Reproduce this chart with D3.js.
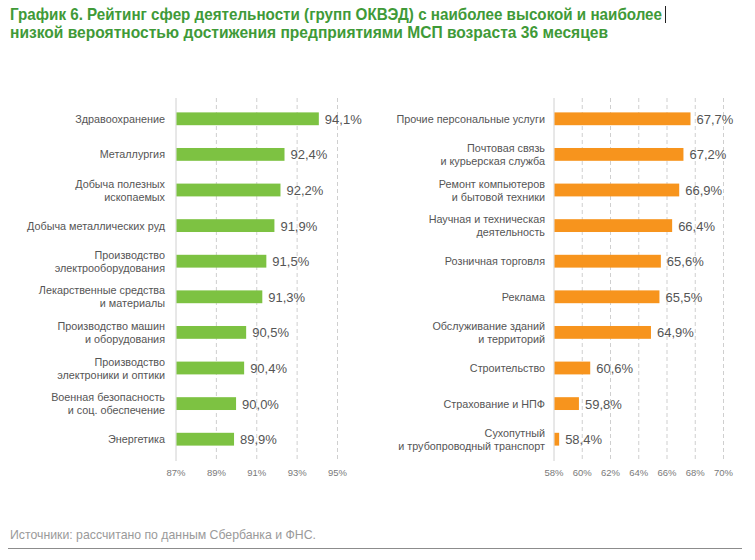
<!DOCTYPE html>
<html><head><meta charset="utf-8">
<script src="https://cdn.jsdelivr.net/npm/d3@7"></script>
<style>
html,body{margin:0;padding:0;background:#fff;}
</style></head>
<body>
<svg id="chart" width="755" height="560"></svg>
<script>
const leftCategories = [
  ["Здравоохранение"],
  ["Металлургия"],
  ["Добыча полезных", "ископаемых"],
  ["Добыча металлических руд"],
  ["Производство", "электрооборудования"],
  ["Лекарственные средства", "и материалы"],
  ["Производство машин", "и оборудования"],
  ["Производство", "электроники и оптики"],
  ["Военная безопасность", "и соц. обеспечение"],
  ["Энергетика"]
];
const leftValues = [94.1, 92.4, 92.2, 91.9, 91.5, 91.3, 90.5, 90.4, 90.0, 89.9];
const leftTicks = [87, 89, 91, 93, 95];

const rightCategories = [
  ["Прочие персональные услуги"],
  ["Почтовая связь", "и курьерская служба"],
  ["Ремонт компьютеров", "и бытовой техники"],
  ["Научная и техническая", "деятельность"],
  ["Розничная торговля"],
  ["Реклама"],
  ["Обслуживание зданий", "и территорий"],
  ["Строительство"],
  ["Страхование и НПФ"],
  ["Сухопутный", "и трубопроводный транспорт"]
];
const rightValues = [67.7, 67.2, 66.9, 66.4, 65.6, 65.5, 64.9, 60.6, 59.8, 58.4];
const rightTicks = [58, 60, 62, 64, 66, 68, 70];

const titleLines = [
  "График 6. Рейтинг сфер деятельности (групп ОКВЭД) с наиболее высокой и наиболее",
  "низкой вероятностью достижения предприятиями МСП возраста 36 месяцев"
];
const titleWidths = [652, 598];
const sourceText = "Источники: рассчитано по данным Сбербанка и ФНС.";

const svg = d3.select("#chart");
const sans = "'Liberation Sans', Arial, sans-serif";

// Title
svg.append("g").selectAll("text").data(titleLines).join("text")
  .attr("x", 10).attr("y", (d, i) => 20 + i * 18)
  .attr("font-family", sans).attr("font-weight", "bold").attr("font-size", 16.5)
  .attr("textLength", (d, i) => titleWidths[i]).attr("lengthAdjust", "spacingAndGlyphs")
  .attr("fill", "#3f9a38").text(d => d);
// cursor mark
svg.append("line").attr("x1", 665.5).attr("x2", 665.5).attr("y1", 6).attr("y2", 23)
  .attr("stroke", "#222").attr("stroke-width", 1);

const y = d3.scaleBand().domain(d3.range(10)).range([101, 457]).paddingInner(0.64).paddingOuter(0.32);

function panel(cats, vals, ticks, x0, x1, labelRight, color) {
  const x = d3.scaleLinear().domain([ticks[0], ticks[ticks.length - 1]]).range([x0, x1]);
  const g = svg.append("g");
  // gridlines
  g.append("g").selectAll("line").data(ticks.slice(1)).join("line")
    .attr("x1", d => x(d) + 0.5).attr("x2", d => x(d) + 0.5)
    .attr("y1", 98).attr("y2", 461)
    .attr("stroke", "#cfcfcf").attr("stroke-dasharray", "4,3");
  g.append("line").attr("x1", x0 + 0.5).attr("x2", x0 + 0.5).attr("y1", 98).attr("y2", 461)
    .attr("stroke", "#d0d0d0");
  // ticks labels via axis
  const ax = g.append("g").attr("transform", "translate(0,467)")
    .call(d3.axisBottom(x).tickValues(ticks).tickFormat(d => d + "%").tickSize(0).tickPadding(2));
  ax.select(".domain").remove();
  ax.selectAll("text").attr("font-family", sans).attr("font-size", 9.5).attr("fill", "#7a7a7a");
  // bars
  g.append("g").selectAll("rect").data(vals).join("rect")
    .attr("x", x0 + 1).attr("y", (d, i) => y(i))
    .attr("width", d => Math.max(0, x(d) - x0 - 1)).attr("height", y.bandwidth())
    .attr("fill", color);
  // value labels
  g.append("g").selectAll("text").data(vals).join("text")
    .attr("x", d => x(d) + 6).attr("y", (d, i) => y(i) + y.bandwidth() / 2 + 5)
    .attr("font-family", sans).attr("font-size", 13).attr("fill", "#555")
    .text(d => d.toFixed(1).replace(".", ",") + "%");
  // category labels
  const lg = g.append("g").selectAll("text").data(cats).join("text")
    .attr("text-anchor", "end").attr("font-family", sans).attr("font-size", 10.8).attr("fill", "#555");
  lg.each(function (lines, i) {
    const c = y(i) + y.bandwidth() / 2;
    const t = d3.select(this);
    lines.forEach((ln, j) => {
      t.append("tspan").attr("x", labelRight)
        .attr("y", c + 4 + (j - (lines.length - 1) / 2) * 13)
        .text(ln);
    });
  });
}

panel(leftCategories, leftValues, leftTicks, 175.5, 337, 165, "#7dc242");
panel(rightCategories, rightValues, rightTicks, 553.5, 723, 545, "#f7941d");

// source
svg.append("text").attr("x", 10).attr("y", 539)
  .attr("font-family", sans).attr("font-size", 13).attr("fill", "#9a9a9a")
  .attr("textLength", 306).attr("lengthAdjust", "spacingAndGlyphs").text(sourceText);
svg.append("line").attr("x1", 8).attr("x2", 742).attr("y1", 548.5).attr("y2", 548.5)
  .attr("stroke", "#8c8c8c").attr("stroke-width", 1);
</script>
</body></html>
